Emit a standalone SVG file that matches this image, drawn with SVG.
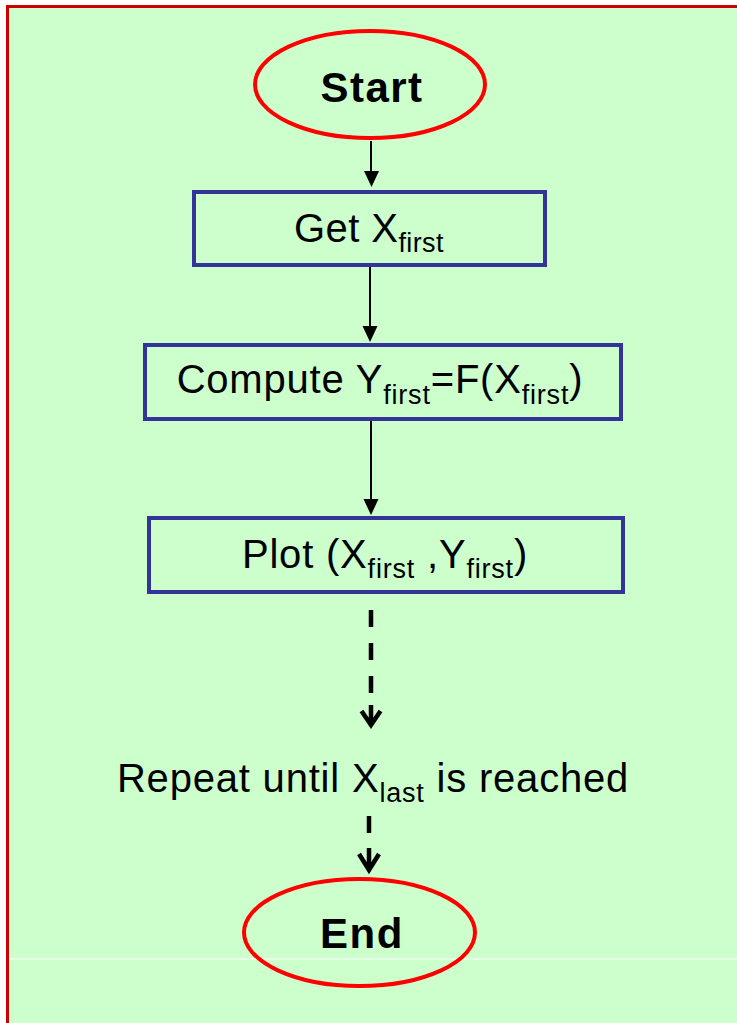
<svg xmlns="http://www.w3.org/2000/svg" width="737" height="1023" viewBox="0 0 737 1023">
<defs>
<style>
.term{fill:none;stroke:#FF0000;stroke-width:4}
.box{fill:none;stroke:#333399;stroke-width:4}
.lbl{font-family:"Liberation Sans",Arial,sans-serif;font-size:40px;fill:#000;text-anchor:middle;letter-spacing:0.8px}
.bold{font-weight:bold;font-size:42px;letter-spacing:1.5px}
.sub{font-size:27px}
.solid{stroke:#000;stroke-width:2;fill:none}
.dash{stroke:#000;stroke-width:4.5;fill:none;stroke-dasharray:17 16}
.head{fill:#000}
.open{stroke:#000;stroke-width:4.5;fill:none;stroke-linejoin:miter;stroke-linecap:butt}
</style>
</defs>
<rect x="0" y="0" width="737" height="1023" fill="#FFFFFF"/>
<rect x="8" y="7" width="729" height="1016" fill="#CCFFCC"/>
<path d="M7.5 1023 V6.5 H737" fill="none" stroke="#CC0000" stroke-width="3"/>
<line x1="9" y1="959" x2="737" y2="959" stroke="#FFFFFF" stroke-width="1"/>

<g id="connectors">
<line class="solid" x1="371" y1="141" x2="371" y2="172"/>
<polygon class="head" points="364,171 379,171 371.5,187"/>
<line class="solid" x1="370" y1="267" x2="370" y2="327"/>
<polygon class="head" points="362.5,326 377.5,326 370,342"/>
<line class="solid" x1="371" y1="421" x2="371" y2="500"/>
<polygon class="head" points="363.5,499 378.5,499 371,515"/>
<line class="dash" x1="371" y1="610" x2="371" y2="693"/>
<path class="open" d="M371 705 V725 M361.5 711 L371 725 L380.5 711"/>
<line class="dash" x1="369" y1="816" x2="369" y2="834"/>
<path class="open" d="M369 848 V870 M359 854 L369 870 L379 854"/>
</g>

<g id="start">
<ellipse class="term" cx="370" cy="84.5" rx="115" ry="53.5"/>
<text class="lbl bold" x="372" y="102">Start</text>
</g>

<g id="get-x">
<rect class="box" x="194" y="192" width="351" height="73"/>
<text class="lbl" x="369" y="242" style="letter-spacing:0.4px">Get X<tspan class="sub" dy="10">first</tspan></text>
</g>

<g id="compute">
<rect class="box" x="145" y="345" width="476" height="74"/>
<text class="lbl" x="380" y="393">Compute Y<tspan class="sub" dy="11">first</tspan><tspan dy="-11">=F(X</tspan><tspan class="sub" dy="11">first</tspan><tspan dy="-11">)</tspan></text>
</g>

<g id="plot">
<rect class="box" x="149" y="518" width="474" height="74"/>
<text class="lbl" x="385" y="568">Plot (X<tspan class="sub" dy="10">first</tspan><tspan dy="-10"> ,Y</tspan><tspan class="sub" dy="10">first</tspan><tspan dy="-10">)</tspan></text>
</g>

<g id="repeat">
<text class="lbl" x="373" y="792">Repeat until X<tspan class="sub" dy="10">last</tspan><tspan dy="-10"> is reached</tspan></text>
</g>

<g id="end">
<ellipse class="term" cx="359.5" cy="932.5" rx="115.5" ry="53.5"/>
<text class="lbl bold" x="362" y="948">End</text>
</g>
</svg>
